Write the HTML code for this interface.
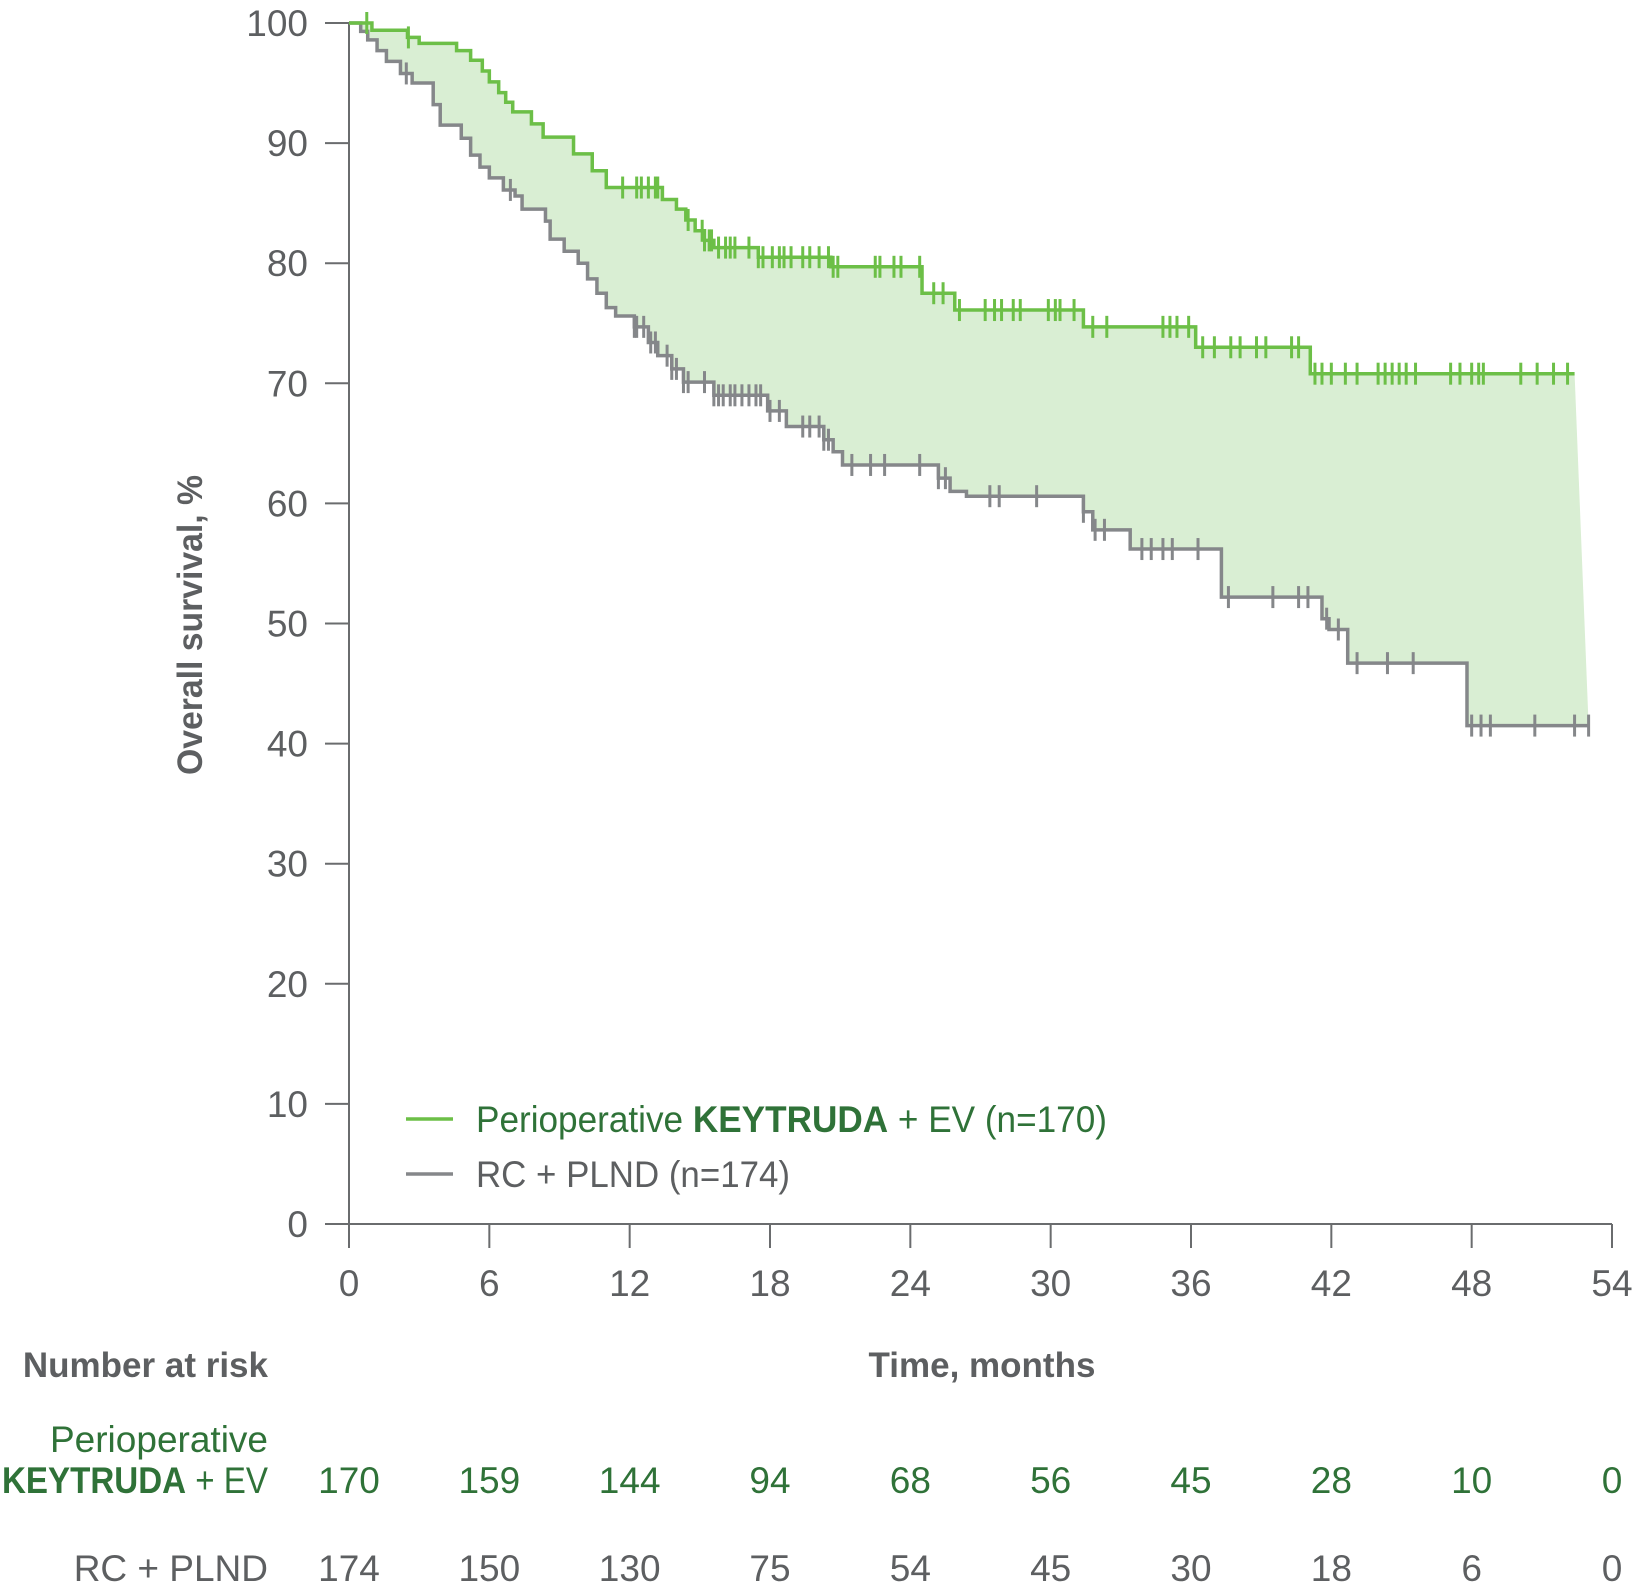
<!DOCTYPE html>
<html><head><meta charset="utf-8"><style>
html,body{margin:0;padding:0;background:#fff;}
svg{display:block;font-family:"Liberation Sans Narrow","Liberation Sans",sans-serif;font-stretch:condensed;}
</style></head><body>
<svg id="chart" width="1634" height="1595" viewBox="0 0 1634 1595" xmlns="http://www.w3.org/2000/svg"></svg>
<script>
const xTicks=[0,6,12,18,24,30,36,42,48,54];
const yTicks=[0,10,20,30,40,50,60,70,80,90,100];
const riskKey=[170,159,144,94,68,56,45,28,10,0];
const riskCtrl=[174,150,130,75,54,45,30,18,6,0];
const keyTimes=[0,0.98,2.5,3.0,4.6,5.2,5.7,6.0,6.4,6.7,7.0,7.8,8.3,9.6,10.4,11.0,13.4,14.0,14.4,14.8,15.2,15.6,17.5,20.6,24.5,25.9,31.4,36.2,41.1,52.4];
const keySurv=[100,99.4,98.8,98.3,97.7,96.9,96.0,95.1,94.2,93.4,92.6,91.6,90.5,89.1,87.7,86.3,85.3,84.5,83.6,82.7,81.9,81.3,80.5,79.7,77.5,76.1,74.7,73.0,70.8,70.8];
const ctrlTimes=[0,0.5,0.8,1.2,1.6,2.2,2.7,3.6,3.9,4.8,5.2,5.6,6.0,6.6,7.1,7.4,8.4,8.6,9.2,9.8,10.2,10.6,11.0,11.4,12.2,12.8,13.2,13.8,14.3,15.6,17.9,18.7,20.3,20.7,21.1,25.2,25.7,26.4,31.4,31.8,33.4,37.3,41.6,41.9,42.7,47.8,53.0];
const ctrlSurv=[100,99.3,98.6,97.7,96.8,95.8,95.0,93.2,91.5,90.4,89.0,88.0,87.1,86.1,85.6,84.5,83.5,82.0,81.0,80.0,78.7,77.5,76.3,75.6,74.7,73.4,72.3,71.2,70.1,69.0,67.7,66.4,65.3,64.3,63.2,62.1,61.0,60.6,59.3,57.8,56.2,52.2,50.4,49.5,46.7,41.5,41.5];
const keyCens=[0.76,2.54,11.7,12.3,12.5,12.8,13.1,13.2,14.5,15.1,15.2,15.4,15.5,15.8,16.1,16.3,16.5,17.1,17.5,17.7,18.1,18.4,18.6,18.9,19.4,19.7,20.1,20.5,20.7,20.9,22.5,22.7,23.3,23.6,24.4,25.0,25.4,26.1,27.2,27.6,27.9,28.4,28.7,29.9,30.2,30.4,31.0,31.8,32.4,34.8,35.1,35.4,35.9,36.5,37.0,37.7,38.1,38.8,39.2,40.3,40.6,41.3,41.6,42.0,42.6,43.1,44.0,44.3,44.6,44.9,45.2,45.6,47.1,47.5,48.0,48.3,48.5,50.1,50.8,51.5,52.1];
const ctrlCens=[2.45,6.9,12.2,12.3,12.6,12.9,13.1,13.6,13.8,14.0,14.3,14.5,15.2,15.6,15.8,16.0,16.3,16.5,16.8,17.1,17.4,17.6,18.0,18.4,19.4,19.7,20.1,20.3,20.5,21.5,22.3,22.9,24.4,25.2,25.5,27.4,27.8,29.4,31.4,31.9,32.3,33.9,34.3,34.8,35.2,36.3,37.6,39.5,40.6,41.0,41.8,42.3,43.1,44.4,45.5,48.0,48.4,48.8,50.7,52.4,53.0];

const X0=349,X1=1612,Y0=1224,Y1=23;
const xs=t=>X0+(X1-X0)*t/54;
const ys=v=>Y0-(Y0-Y1)*v/100;
const GREEN='#6cbf47',GRAY='#85878a',TXT='#5d5f61',DG='#2f7238';
const svg=document.getElementById('chart');
const NS='http://www.w3.org/2000/svg';
function mk(tag,attrs,parent){const e=document.createElementNS(NS,tag);for(const k in attrs)e.setAttribute(k,attrs[k]);(parent||svg).appendChild(e);return e;}
function txt(s,attrs,parent){const e=mk('text',attrs,parent);e.textContent=s;return e;}
function stepAt(times,surv,t){let v=surv[0];for(let i=0;i<times.length;i++){if(times[i]<=t)v=surv[i];}return v;}
function stepPts(times,surv){let p=[[xs(times[0]),ys(surv[0])]];for(let i=1;i<times.length;i++){p.push([xs(times[i]),ys(surv[i-1])]);p.push([xs(times[i]),ys(surv[i])]);}return p;}

const kp=stepPts(keyTimes,keySurv), cp=stepPts(ctrlTimes,ctrlSurv);
const fillPts=kp.concat(cp.slice().reverse());
const fill=mk('polygon',{points:fillPts.map(p=>p.join(',')).join(' '),fill:'#d9eed3',stroke:'none'});



const ya=mk('line',{x1:X0,y1:Y1,x2:X0,y2:Y0,stroke:'#6a6c6e','stroke-width':2});


const xa=mk('line',{x1:X0,y1:Y0,x2:X1,y2:Y0,stroke:'#6a6c6e','stroke-width':2});


yTicks.forEach(v=>{
  mk('line',{x1:X0-24,y1:ys(v),x2:X0,y2:ys(v),stroke:'#6a6c6e','stroke-width':2});
  const t=txt(String(v),{x:308,y:ys(v)+13,'text-anchor':'end','font-size':37,fill:TXT});
  
  
});
xTicks.forEach((v,i)=>{
  mk('line',{x1:xs(v),y1:Y0,x2:xs(v),y2:Y0+24,stroke:'#6a6c6e','stroke-width':2});
  const t=txt(String(v),{x:xs(v),y:1296,'text-anchor':'middle','font-size':37,fill:TXT});
  
  
  const r1=txt(String(riskKey[i]),{x:xs(v),y:1493,'text-anchor':'middle','font-size':37,fill:DG});
  
  
  const r2=txt(String(riskCtrl[i]),{x:xs(v),y:1581,'text-anchor':'middle','font-size':37,fill:TXT});
  
  
});

const cl=mk('polyline',{points:cp.map(p=>p.join(',')).join(' '),fill:'none',stroke:GRAY,'stroke-width':3.5});


const kl=mk('polyline',{points:kp.map(p=>p.join(',')).join(' '),fill:'none',stroke:GREEN,'stroke-width':3.5});


ctrlCens.forEach(t=>{const y=ys(stepAt(ctrlTimes,ctrlSurv,t));const c=mk('line',{x1:xs(t),y1:y-11,x2:xs(t),y2:y+11,stroke:GRAY,'stroke-width':3});

});
keyCens.forEach(t=>{const y=ys(stepAt(keyTimes,keySurv,t));const c=mk('line',{x1:xs(t),y1:y-11,x2:xs(t),y2:y+11,stroke:GREEN,'stroke-width':3});

});

const yt=txt('Overall survival, %',{x:0,y:0,transform:'translate(202,625) rotate(-90)','text-anchor':'middle','font-size':35,'font-weight':'bold',fill:TXT,textLength:300,lengthAdjust:'spacingAndGlyphs'});


const xt=txt('Time, months',{x:982,y:1377,'text-anchor':'middle','font-size':35,'font-weight':'bold',fill:TXT});


const nr=txt('Number at risk',{x:268,y:1377,'text-anchor':'end','font-size':35,'font-weight':'bold',fill:TXT});


const p1=txt('Perioperative',{x:268,y:1452,'text-anchor':'end','font-size':37,fill:DG});


const p2=mk('text',{x:2,y:1493,'font-size':37,fill:DG,textLength:266,lengthAdjust:'spacingAndGlyphs'});
p2.innerHTML='<tspan font-weight="bold">KEYTRUDA</tspan> + EV';


const p3=txt('RC + PLND',{x:268,y:1581,'text-anchor':'end','font-size':37,fill:TXT});



const lg=mk('g',{});


const le1=mk('g',{},lg);


mk('line',{x1:406,y1:1119,x2:453,y2:1119,stroke:GREEN,'stroke-width':3.5},le1);
const lt1=mk('text',{x:476,y:1132,'font-size':37,fill:DG,textLength:631,lengthAdjust:'spacingAndGlyphs'},le1);
lt1.innerHTML='Perioperative <tspan font-weight="bold">KEYTRUDA</tspan> + EV (n=170)';
const le2=mk('g',{},lg);


mk('line',{x1:406,y1:1174,x2:453,y2:1174,stroke:GRAY,'stroke-width':3.5},le2);
txt('RC + PLND (n=174)',{x:476,y:1187,'font-size':37,fill:TXT,textLength:314,lengthAdjust:'spacingAndGlyphs'},le2);
</script>
</body></html>
